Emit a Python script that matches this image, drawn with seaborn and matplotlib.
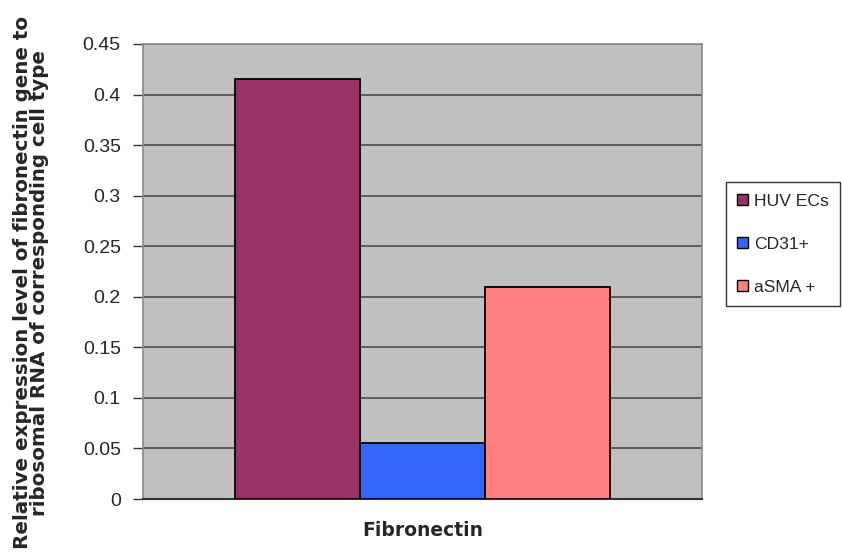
import matplotlib
matplotlib.use("Agg")
import matplotlib.pyplot as plt
import seaborn as sns
import pandas as pd
from matplotlib.patches import Patch

# Expression data
gene = "Fibronectin"
cell_types = ["HUV ECs", "CD31+", "aSMA +"]
values = [0.415, 0.055, 0.21]
colors = ["#993366", "#3366FF", "#FF8080"]
y_ticks = [0, 0.05, 0.1, 0.15, 0.2, 0.25, 0.3, 0.35, 0.4, 0.45]
y_tick_labels = ["0", "0.05", "0.1", "0.15", "0.2", "0.25", "0.3", "0.35", "0.4", "0.45"]

df = pd.DataFrame({"gene": [gene] * len(cell_types), "cell": cell_types, "value": values})

sns.set_theme(style="white")
plt.rcParams["font.family"] = ["Liberation Sans", "DejaVu Sans"]

fig = plt.figure(figsize=(8.43, 5.59), dpi=100)
ax = fig.add_axes([0.1696, 0.1073, 0.6631, 0.814])
ax.set_facecolor("#C0C0C0")

sns.barplot(data=df, x="gene", y="value", hue="cell", palette=colors,
            hue_order=cell_types, width=0.67, edgecolor="black", linewidth=1.3,
            saturation=1, ax=ax, legend=False, zorder=3)

ax.set_ylim(0, 0.45)
ax.set_xlim(-0.5, 0.5)
ax.set_yticks(y_ticks)
ax.set_yticklabels(y_tick_labels, fontsize=14)
ax.set_xticks([])
ax.yaxis.grid(True, color="#555555", linewidth=1.3, zorder=0)
ax.set_axisbelow(True)
ax.tick_params(axis="y", which="major", direction="out", length=7, width=1,
               color="#333333", left=True, pad=9)

for side in ["top", "right", "left"]:
    ax.spines[side].set_color("#8a8a8a")
    ax.spines[side].set_linewidth(1.2)
ax.spines["bottom"].set_color("#333333")
ax.spines["bottom"].set_linewidth(1.5)

ax.set_xlabel("Fibronectin", fontsize=13.5, fontweight="bold", labelpad=16,
              family=["DejaVu Sans"])
ax.set_ylabel("Relative expression level of fibronectin gene to\nribosomal RNA of corresponding cell type",
              fontsize=14.3, fontweight="bold", linespacing=0.9,
              family=["DejaVu Sans"])
ax.yaxis.set_label_coords(-0.168, 0.475)

handles = [Patch(facecolor=c, edgecolor="black", linewidth=1) for c in colors]
leg = ax.legend(handles, cell_types, loc="center left", bbox_to_anchor=(1.043, 0.56),
                frameon=True, fancybox=False, fontsize=12.6, handlelength=0.6,
                handleheight=0.6, handletextpad=0.35, labelspacing=1.6,
                borderpad=0.65, borderaxespad=0)
leg.get_frame().set_edgecolor("black")
leg.get_frame().set_linewidth(1)

fig.savefig("out.png", dpi=100, facecolor="white")
